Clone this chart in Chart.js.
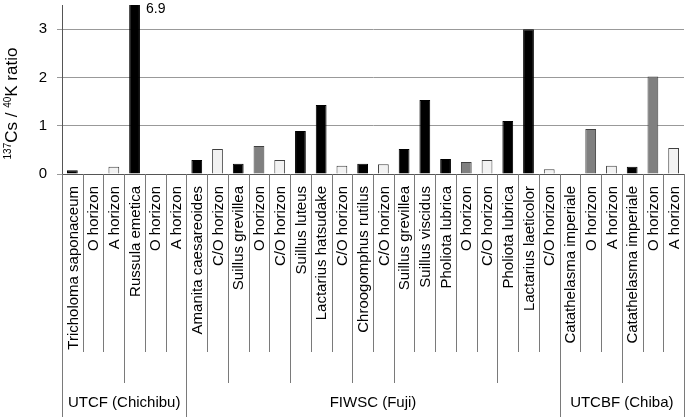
<!DOCTYPE html>
<html>
<head>
<meta charset="utf-8">
<script src="https://cdn.jsdelivr.net/npm/chart.js@4.4.0/dist/chart.umd.min.js"></script>
<style>
  html, body { margin: 0; padding: 0; background: #fff; }
  #wrap { width: 685px; height: 417px; }
</style>
</head>
<body>
<div id="wrap"><canvas id="ratioChart" width="685" height="417"></canvas></div>
<script>
const categories = [
    'Tricholoma saponaceum', 'O horizon', 'A horizon',
    'Russula emetica', 'O horizon', 'A horizon',
    'Amanita caesareoides', 'C/O horizon',
    'Suillus grevillea', 'O horizon', 'C/O horizon',
    'Suillus luteus', 'Lactarius hatsudake', 'C/O horizon',
    'Chroogomphus rutilus', 'C/O horizon',
    'Suillus grevillea', 'Suillus viscidus', 'Pholiota lubrica', 'O horizon', 'C/O horizon',
    'Pholiota lubrica', 'Lactarius laeticolor', 'C/O horizon',
    'Catathelasma imperiale', 'O horizon', 'A horizon',
    'Catathelasma imperiale', 'O horizon', 'A horizon'
];
const ratios = [
    0.08, 0, 0.15,
    6.9, 0, 0,
    0.29, 0.52,
    0.21, 0.58, 0.29,
    0.89, 1.43, 0.17,
    0.21, 0.20,
    0.52, 1.53, 0.31, 0.25, 0.29,
    1.10, 3.00, 0.10,
    0.01, 0.93, 0.17,
    0.15, 2.02, 0.54
];
const sampleTypes = [
    'fungus', 'O', 'A',
    'fungus', 'O', 'A',
    'fungus', 'C/O',
    'fungus', 'O', 'C/O',
    'fungus', 'fungus', 'C/O',
    'fungus', 'C/O',
    'fungus', 'fungus', 'fungus', 'O', 'C/O',
    'fungus', 'fungus', 'C/O',
    'fungus', 'O', 'A',
    'fungus', 'O', 'A'
];
const subgroupSizes = [3, 3, 2, 3, 3, 2, 5, 3, 3, 3];
const sites = ['UTCF (Chichibu)', 'FIWSC (Fuji)', 'UTCBF (Chiba)'];
const siteSizes = [6, 18, 6];
const yTicks = [0, 1, 2, 3];
const yMax = 3.5;

const fillFor = { fungus: '#000000', 'O': '#808080', 'A': '#f2f2f2', 'C/O': '#f2f2f2' };
const edgeFor = { fungus: '#000000', 'O': '#404040', 'A': '#404040', 'C/O': '#404040' };

const FONT = 'Arial, "Liberation Sans", sans-serif';

function boundarySet(sizes) {
    const s = new Set([0]);
    let n = 0;
    sizes.forEach(v => { n += v; s.add(n); });
    return s;
}

const categoryAxis = {
    id: 'categoryAxis',
    afterDraw(chart) {
        const { ctx, chartArea, scales: { x } } = chart;
        const step = x.getPixelForValue(1) - x.getPixelForValue(0);
        const left = x.getPixelForValue(0) - step / 2;
        const base = chartArea.bottom;
        const siteEdges = boundarySet(siteSizes);
        const subEdges = boundarySet(subgroupSizes);

        ctx.save();
        // separators
        ctx.strokeStyle = '#7a7a7a';
        ctx.lineWidth = 1;
        for (let k = 0; k <= categories.length; k++) {
            let end = base + 178;
            if (siteEdges.has(k)) end = 417;
            else if (subEdges.has(k)) end = base + 209;
            const px = Math.round(left + k * step) + 0.5;
            ctx.beginPath();
            ctx.moveTo(px, base);
            ctx.lineTo(px, end);
            ctx.stroke();
        }

        // rotated category labels
        ctx.fillStyle = '#000';
        ctx.font = '15px ' + FONT;
        ctx.textAlign = 'right';
        ctx.textBaseline = 'middle';
        categories.forEach((c, i) => {
            ctx.save();
            ctx.translate(x.getPixelForValue(i) + 1, base + 12);
            ctx.rotate(-Math.PI / 2);
            ctx.fillText(c, 0, 0);
            ctx.restore();
        });

        // site labels
        ctx.textAlign = 'center';
        let start = 0;
        sites.forEach((s, i) => {
            const a = left + start * step;
            const b = left + (start + siteSizes[i]) * step;
            ctx.fillText(s, (a + b) / 2, base + 229);
            start += siteSizes[i];
        });

        // value of the clipped bar
        const meta = chart.getDatasetMeta(0);
        ratios.forEach((v, i) => {
            if (v > yMax) {
                const bar = meta.data[i];
                ctx.font = '14px ' + FONT;
                ctx.textAlign = 'left';
                ctx.fillText(v.toFixed(1), bar.x + bar.width / 2 + 6, chartArea.top + 4);
            }
        });

        // y axis title with superscripts
        ctx.save();
        ctx.translate(17, (chartArea.top + chartArea.bottom) / 2 + 14);
        ctx.rotate(-Math.PI / 2);
        ctx.textAlign = 'left';
        ctx.textBaseline = 'alphabetic';
        const parts = [['137', true], ['Cs / ', false], ['40', true], ['K ratio', false]];
        let total = 0;
        parts.forEach(([t, sup]) => {
            ctx.font = (sup ? '10px ' : '17px ') + FONT;
            total += ctx.measureText(t).width;
        });
        let cx = -total / 2;
        parts.forEach(([t, sup]) => {
            ctx.font = (sup ? '10px ' : '17px ') + FONT;
            ctx.fillText(t, cx, sup ? -6 : 0);
            cx += ctx.measureText(t).width;
        });
        ctx.restore();
        ctx.restore();
    }
};

new Chart(document.getElementById('ratioChart'), {
    type: 'bar',
    data: {
        labels: categories,
        datasets: [{
            data: ratios,
            backgroundColor: sampleTypes.map(t => fillFor[t]),
            borderColor: sampleTypes.map(t => edgeFor[t]),
            borderWidth: 1,
            borderSkipped: 'bottom',
            categoryPercentage: 1,
            barPercentage: 0.52
        }]
    },
    options: {
        responsive: false,
        animation: false,
        layout: { padding: { top: 5, right: 1, left: 0, bottom: 0 } },
        plugins: {
            legend: { display: false },
            tooltip: { enabled: false }
        },
        scales: {
            x: {
                grid: { display: false },
                ticks: { display: false },
                border: { display: true, color: '#555', width: 1 },
                afterFit: s => { s.height = 243; }
            },
            y: {
                min: 0,
                max: yMax,
                afterFit: s => { s.width = 62; s.paddingTop = 0; s.paddingBottom = 0; },
                afterBuildTicks: s => { s.ticks = yTicks.map(v => ({ value: v })); },
                grid: { color: '#999999', tickLength: 5 },
                border: { display: true, color: '#555', width: 1 },
                ticks: {
                    color: '#000',
                    padding: 10,
                    font: { family: FONT, size: 15 }
                }
            }
        }
    },
    plugins: [categoryAxis]
});
</script>
</body>
</html>
